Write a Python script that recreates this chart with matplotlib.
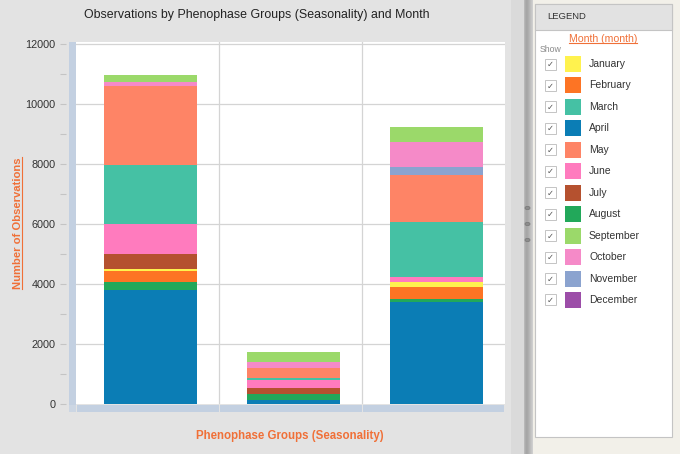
import numpy as np
import matplotlib
matplotlib.use("Agg")
import matplotlib.pyplot as plt
from matplotlib.patches import Rectangle, Circle
from matplotlib.lines import Line2D

plt.rcParams['font.family'] = ['Liberation Sans', 'DejaVu Sans']

# data
groups = ["Group 1", "Group 2", "Group 3"]   # no category labels shown on the axis
months = ["January", "February", "March", "April", "May", "June",
          "July", "August", "September", "October", "November", "December"]
colors = ["#FFF24E", "#FD7424", "#45C1A4", "#0B7DB5", "#FE8466", "#FF7BBE",
          "#B5512F", "#22A85A", "#9BD96A", "#F58AC8", "#8BA3CF", "#9C4DA8"]

jan = [67, 0, 167]
feb = [367, 0, 420]
mar = [1978, 67, 1834]
apr = [3800, 133, 3420]
may = [2633, 333, 1576]
jun = [1000, 267, 146]
jul = [500, 210, 0]
aug = [267, 210, 80]
sep = [233, 313, 480]
octo = [122, 200, 833]
nov = [0, 0, 277]
dec = [0, 0, 0]

values = {"January": jan, "February": feb, "March": mar, "April": apr,
          "May": may, "June": jun, "July": jul, "August": aug,
          "September": sep, "October": octo, "November": nov, "December": dec}
# order the segments are stacked in, bottom to top
stack_order = ["April", "August", "February", "January", "July", "June",
               "March", "May", "November", "October", "September", "December"]

W, H = 680, 454
ORANGE = "#F07038"


def fx(px):
    return px / W


def fy(py):
    return 1 - py / H


fig = plt.figure(figsize=(6.8, 4.54), dpi=100)
fig.patch.set_facecolor("#e3e3e3")

# right hand panel + divider
fig.patches.append(Rectangle((fx(533), 0), fx(680) - fx(533), 1, transform=fig.transFigure,
                             facecolor="#f2f0e9", edgecolor="none", zorder=0))
fig.patches.append(Rectangle((fx(511), 0), fx(524) - fx(511), 1, transform=fig.transFigure,
                             facecolor="#dadada", edgecolor="none", zorder=0))
for i, c in enumerate(["#b8b8b8", "#acacac", "#a6a6a6", "#a8a8a8", "#aeaeae", "#b6b6b6",
                       "#bebebe", "#c6c6c6", "#cecece"]):
    fig.patches.append(Rectangle((fx(524 + i), 0), 1 / W, 1, transform=fig.transFigure,
                                 facecolor=c, edgecolor="none", zorder=0))
for py in [208, 224, 240]:
    fig.patches.append(Circle((fx(527.5), fy(py)), 2.5 / W, transform=fig.transFigure,
                              facecolor="#8c8c8c", edgecolor="#777777", lw=0.5, zorder=1))

# main axes
x0, x1, ytop, ybot = 76, 505, 42.2, 404.3
ax = fig.add_axes([fx(x0), fy(ybot), fx(x1) - fx(x0), fy(ytop) - fy(ybot)])
ax.set_facecolor("white")

x = np.arange(len(groups))
bottom = np.zeros(len(groups))
for m in stack_order:
    v = np.array(values[m], dtype=float)
    ax.bar(x + 0.02, v, width=0.655, bottom=bottom, color=colors[months.index(m)],
           edgecolor="none", zorder=3)
    bottom += v

ax.set_xlim(-0.5, 2.5)
ax.set_ylim(0, 12070)
ax.set_yticks(np.arange(0, 12001, 2000))
ax.set_yticks(np.arange(1000, 12000, 2000), minor=True)
ax.set_xticks([])
for s in ax.spines.values():
    s.set_visible(False)
ax.spines['left'].set_position(('outward', 7))
ax.tick_params(axis='y', which='both', length=4.3, width=0.8, color="#c4c4c4",
               labelsize=7.8, labelcolor="#333333", pad=3.5)
for yv in np.arange(2000, 12001, 2000):
    ax.axhline(yv, color="#d4d4d4", lw=0.9, zorder=1)
for xv in [0.5, 1.5]:
    ax.axvline(xv, color="#d4d4d4", lw=0.9, zorder=1)

# blue-grey axis strips
strip = "#c3d0e1"
fig.patches.append(Rectangle((fx(69), fy(404.5)), 7 / W, (404.5 - 42.2) / H, transform=fig.transFigure,
                             facecolor=strip, edgecolor="none", zorder=2))
fig.patches.append(Rectangle((fx(69), fy(412)), 7 / W, 7 / H, transform=fig.transFigure,
                             facecolor="#ccd6e3", edgecolor="none", zorder=2))
for a, b in [(77, 218.5), (220, 361.5), (363, 504)]:
    fig.patches.append(Rectangle((fx(a), fy(412)), (b - a) / W, 7 / H, transform=fig.transFigure,
                                 facecolor=strip, edgecolor="none", zorder=2))

# titles
fig.text(fx(257), fy(15), "Observations by Phenophase Groups (Seasonality) and Month",
         ha="center", va="center", fontsize=8.9, color="#222222")
ylab = fig.text(fx(18), fy(223), "Number of Observations", rotation=90, ha="center", va="center",
                fontsize=8.1, fontweight="bold", color=ORANGE)
fig.text(fx(290), fy(436), "Phenophase Groups (Seasonality)", ha="center", va="center",
         fontsize=8.3, fontweight="bold", color=ORANGE)

# legend panel
fig.patches.append(Rectangle((fx(535), fy(437)), (672 - 535) / W, (437 - 4) / H, transform=fig.transFigure,
                             facecolor="white", edgecolor="#c4c4c4", lw=0.8, zorder=2))
fig.patches.append(Rectangle((fx(535), fy(29.5)), (672 - 535) / W, (29.5 - 4) / H, transform=fig.transFigure,
                             facecolor="#e2e2e2", edgecolor="#c4c4c4", lw=0.8, zorder=2))
fig.text(fx(547), fy(16.7), "LEGEND", ha="left", va="center", fontsize=6.8, color="#333333", zorder=3)
mlab = fig.text(fx(603), fy(39), "Month (month)", ha="center", va="center", fontsize=7.6,
                color=ORANGE, zorder=3)
fig.text(fx(539.5), fy(49.5), "Show", ha="left", va="center", fontsize=6.3, color="#8a8a8a", zorder=3)

for i, m in enumerate(months):
    py = 64 + 21.45 * i
    fig.patches.append(Rectangle((fx(544.5), fy(py + 5.5)), 11 / W, 11 / H, transform=fig.transFigure,
                                 facecolor="white", edgecolor="#c4c4c4", lw=0.7, zorder=3))
    fig.text(fx(550), fy(py + 0.5), "\u2713", ha="center", va="center", fontsize=6,
             color="#555555", family="DejaVu Sans", zorder=4)
    fig.patches.append(Rectangle((fx(564.5), fy(py + 8)), 16 / W, 16 / H, transform=fig.transFigure,
                                 facecolor=colors[i], edgecolor="none", zorder=3))
    fig.text(fx(589), fy(py), m, ha="left", va="center", fontsize=7.5, color="#333333", zorder=3)

# underlines for the orange labels
fig.canvas.draw()
r = fig.canvas.get_renderer()
bb = ylab.get_window_extent(r)
fig.lines.append(Line2D([(bb.x1 - 1.5) / W] * 2, [bb.y0 / H, bb.y1 / H], transform=fig.transFigure,
                        color=ORANGE, lw=0.8))
bb = mlab.get_window_extent(r)
fig.lines.append(Line2D([bb.x0 / W, bb.x1 / W], [(bb.y0 + 1.5) / H] * 2, transform=fig.transFigure,
                        color=ORANGE, lw=0.8, zorder=4))

fig.savefig("out.png", dpi=100, facecolor=fig.get_facecolor())
